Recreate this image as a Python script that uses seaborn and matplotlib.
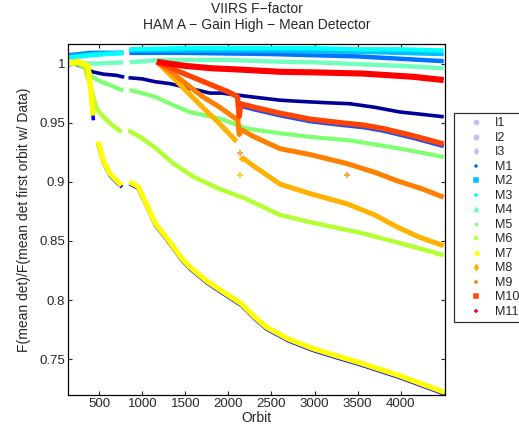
import numpy as np
import pandas as pd
import matplotlib
matplotlib.use("Agg")
import matplotlib.pyplot as plt
from matplotlib.lines import Line2D
import seaborn as sns

# band names in plotting order (later bands sit on top)
bands = ["I1", "I2", "I3", "M1", "M2", "M3", "M4", "M5", "M6", "M7", "M8", "M9", "M10", "M11"]

# orbit / normalised F-factor, None = data gap
i1_orbit = [150, 250, 350, 420, 550, 700, 790, None, 840, 1000, 1150, 1321, 1550, 1786, 1921, 2250, 2600, 2830, 3100, 3411, 3700, 3993, 4250, 4500]
i1_val = [1.0, 0.999, 0.996, 0.993, 0.991, 0.990, 0.9885, None, 0.988, 0.987, 0.9846, 0.983, 0.979, 0.975, 0.975, 0.972, 0.969, 0.968, 0.967, 0.966, 0.963, 0.959, 0.957, 0.955]

i2_orbit = [150, 250, 370, 400, 432, None, 486, 546, 624, 702, 765, None, 850, 950, 1050, 1150, 1321, 1450, 1553, 1750, 1980, 2150, 2300, 2444, 2700, 2982, 3250, 3528, 3992, 4250, 4515]
i2_val = [0.999, 1.0, 0.996, 0.978, 0.952, None, 0.932, 0.9165, 0.9055, 0.8995, 0.8955, None, 0.8985, 0.8945, 0.8795, 0.8635, 0.8475, 0.8345, 0.8265, 0.8145, 0.8035, 0.7955, 0.7845, 0.7755, 0.7655, 0.7575, 0.7515, 0.7455, 0.7345, 0.7275, 0.7205]

i3_orbit = [2145, 2300, 2600, 2950, 3300, 3564, 3800, 4142, 4500]
i3_val = [0.964, 0.961, 0.956, 0.951, 0.948, 0.946, 0.943, 0.937, 0.930]

m1_orbit = [150, 400, 780, None, 850, 1500, 2500, 3000, 3500, 4000, 4500]
m1_val = [1.007, 1.009, 1.009, None, 1.009, 1.009, 1.008, 1.007, 1.006, 1.004, 1.002]

m2_orbit = [150, 400, 780, None, 850, 1500, 2500, 3000, 3500, 4000, 4500]
m2_val = [1.006, 1.008, 1.009, None, 1.011, 1.011, 1.011, 1.010, 1.010, 1.009, 1.008]

m3_orbit = [150, 400, 780, None, 850, 1500, 2500, 3000, 3500, 4000, 4500]
m3_val = [1.005, 1.007, 1.009, None, 1.012, 1.013, 1.013, 1.013, 1.012, 1.012, 1.011]

m4_orbit = [150, 500, 780, None, 850, 1200, 2000, 2600, 3000, 3500, 4000, 4500]
m4_val = [1.0, 1.0, 1.001, None, 1.001, 1.003, 1.003, 1.0015, 1.001, 0.9995, 0.998, 0.996]

m5_orbit = [150, 250, 330, 415, 508, 650, 780, None, 850, 1000, 1147, 1321, 1553, 1921, 2214, 2600, 2947, 3411, 4000, 4500]
m5_val = [1.0, 1.0, 0.997, 0.989, 0.985, 0.981, 0.977, None, 0.9775, 0.975, 0.972, 0.966, 0.959, 0.953, 0.945, 0.941, 0.938, 0.935, 0.928, 0.921]

m6_orbit = [150, 250, 330, 380, 430, 470, 546, 650, 760, None, 837, 972, 1147, 1357, 1600, 1880, 2192, 2599, 2947, 3200, 3564, 4000, 4500]
m6_val = [1.0, 1.0, 0.997, 0.985, 0.972, 0.962, 0.955, 0.948, 0.942, None, 0.9436, 0.938, 0.929, 0.9157, 0.904, 0.8945, 0.886, 0.872, 0.866, 0.862, 0.8564, 0.848, 0.838]

m7_orbit = [150, 250, 370, 400, 427, None, 488, 546, 624, 702, 760, None, 850, 950, 1050, 1150, 1321, 1450, 1553, 1750, 1980, 2150, 2300, 2444, 2700, 2982, 3250, 3528, 3992, 4250, 4515]
m7_val = [1.0, 1.002, 0.998, 0.98, 0.956, None, 0.934, 0.918, 0.907, 0.901, 0.897, None, 0.900, 0.896, 0.881, 0.865, 0.849, 0.836, 0.828, 0.816, 0.805, 0.797, 0.786, 0.777, 0.767, 0.759, 0.753, 0.747, 0.736, 0.729, 0.722]

m8_orbit = [1170, 1400, 1700, 1900, 2095, None, 2140, 2170, 2300, 2600, 2950, 3373, 3700, 3954, 4225, 4500]
m8_val = [1.0015, 0.985, 0.963, 0.949, 0.934, None, 0.918, 0.920, 0.913, 0.898, 0.890, 0.8815, 0.872, 0.862, 0.853, 0.846]

m9_orbit = [1170, 1400, 1700, 1900, 2110, 2125, 2150, 2300, 2600, 2950, 3373, 3700, 3954, 4250, 4500]
m9_val = [1.0015, 0.989, 0.972, 0.963, 0.952, 0.940, 0.944, 0.938, 0.928, 0.923, 0.9155, 0.908, 0.901, 0.894, 0.887]

m10_orbit = [1170, 1400, 1700, 2000, 2105, 2125, 2145, 2300, 2600, 2950, 3300, 3564, 3800, 4142, 4500]
m10_val = [1.0015, 0.994, 0.985, 0.976, 0.972, 0.955, 0.966, 0.963, 0.958, 0.953, 0.950, 0.948, 0.945, 0.939, 0.932]

m11_orbit = [1170, 1300, 1500, 1800, 2100, 2600, 3000, 3564, 4142, 4500]
m11_val = [1.0015, 1.0, 0.998, 0.996, 0.995, 0.993, 0.9925, 0.9915, 0.9888, 0.986]

# a few stray points around the orbit ~2130 event
stray_orbit = [2130, 3380, 2130]
stray_val = [0.924, 0.906, 0.906]
stray_band = ["M9", "M9", "M8"]

orbits = [i1_orbit, i2_orbit, i3_orbit, m1_orbit, m2_orbit, m3_orbit, m4_orbit,
          m5_orbit, m6_orbit, m7_orbit, m8_orbit, m9_orbit, m10_orbit, m11_orbit]
values = [i1_val, i2_val, i3_val, m1_val, m2_val, m3_val, m4_val,
          m5_val, m6_val, m7_val, m8_val, m9_val, m10_val, m11_val]

colors = {
    "I1": (0.0, 0.0, 0.6), "I2": (0.0, 0.0, 1.0), "I3": (0.1, 0.3, 1.0),
    "M1": (0.0, 0.45, 1.0), "M2": (0.0, 0.75, 1.0), "M3": (0.0, 1.0, 1.0),
    "M4": (0.45, 1.0, 0.75), "M5": (0.5, 1.0, 0.45), "M6": (0.7, 1.0, 0.2),
    "M7": (1.0, 1.0, 0.0), "M8": (1.0, 0.7, 0.0), "M9": (1.0, 0.5, 0.0),
    "M10": (1.0, 0.27, 0.0), "M11": (1.0, 0.0, 0.0),
}
widths = {"I1": 2.6, "I2": 2.6, "I3": 2.8, "M1": 3.2, "M2": 3.2, "M3": 3.2, "M4": 3.2,
          "M5": 3.0, "M6": 3.2, "M7": 3.8, "M8": 3.6, "M9": 3.6, "M10": 3.8, "M11": 4.4}
markers = {"I1": "o", "I2": "o", "I3": "d", "M1": "+", "M2": "s", "M3": "+", "M4": "^",
           "M5": ".", "M6": "x", "M7": "<", "M8": "d", "M9": "+", "M10": "s", "M11": "+"}

sns.set_style("ticks")
plt.rcParams["font.family"] = ["Liberation Sans", "DejaVu Sans"]

fig = plt.figure(figsize=(5.19, 4.28), dpi=100)
ax = fig.add_axes([68 / 519, 33 / 428, 377 / 519, 351 / 428])

for band, orb, val in zip(bands, orbits, values):
    seg = np.cumsum([o is None for o in orb])
    df = pd.DataFrame({"orbit": orb, "val": val, "seg": seg}).dropna()
    sns.lineplot(data=df, x="orbit", y="val", units="seg", estimator=None, sort=False,
                 color=colors[band], linewidth=widths[band], ax=ax, legend=False,
                 solid_capstyle="butt")

stray = pd.DataFrame({"orbit": stray_orbit, "val": stray_val, "band": stray_band})
sns.scatterplot(data=stray, x="orbit", y="val", hue="band", palette=colors, marker="P",
                s=18, linewidth=0, ax=ax, legend=False, alpha=0.7)

ax.set_xlim(137, 4515)
ax.set_ylim(0.7198, 1.0165)
ax.set_xticks([500, 1000, 1500, 2000, 2500, 3000, 3500, 4000])
ax.set_yticks([0.75, 0.8, 0.85, 0.9, 0.95, 1.0])
ax.set_yticklabels(["0.75", "0.8", "0.85", "0.9", "0.95", "1"])
ax.tick_params(direction="in", top=True, right=True, length=3, width=0.8, labelsize=9.5, pad=2)
for sp in ax.spines.values():
    sp.set_linewidth(0.9)
    sp.set_color("black")

ax.set_xlabel("Orbit", fontsize=10, labelpad=1)
ax.set_ylabel("F(mean det)/F(mean det first orbit w/ Data)", fontsize=10, labelpad=6)
ax.set_title("VIIRS F\u2212factor\nHAM A \u2212 Gain High \u2212 Mean Detector", fontsize=10,
             linespacing=1.15, pad=11)

handles = []
for band in bands:
    c = colors[band]
    if band.startswith("I"):
        c = (0.75, 0.75, 0.95)
    handles.append(Line2D([], [], linestyle="none", marker=markers[band], color=c,
                          markersize=3, markeredgewidth=1.1))
leg = fig.legend(handles, bands, loc="upper left", bbox_to_anchor=(454 / 519, 1 - 113 / 428),
                 borderaxespad=0, frameon=True, fancybox=False, fontsize=9,
                 handlelength=2.8, handletextpad=0.1, borderpad=0.35, labelspacing=0.2)
leg.get_frame().set_edgecolor("black")
leg.get_frame().set_linewidth(0.9)

fig.savefig("out.png", dpi=100)
